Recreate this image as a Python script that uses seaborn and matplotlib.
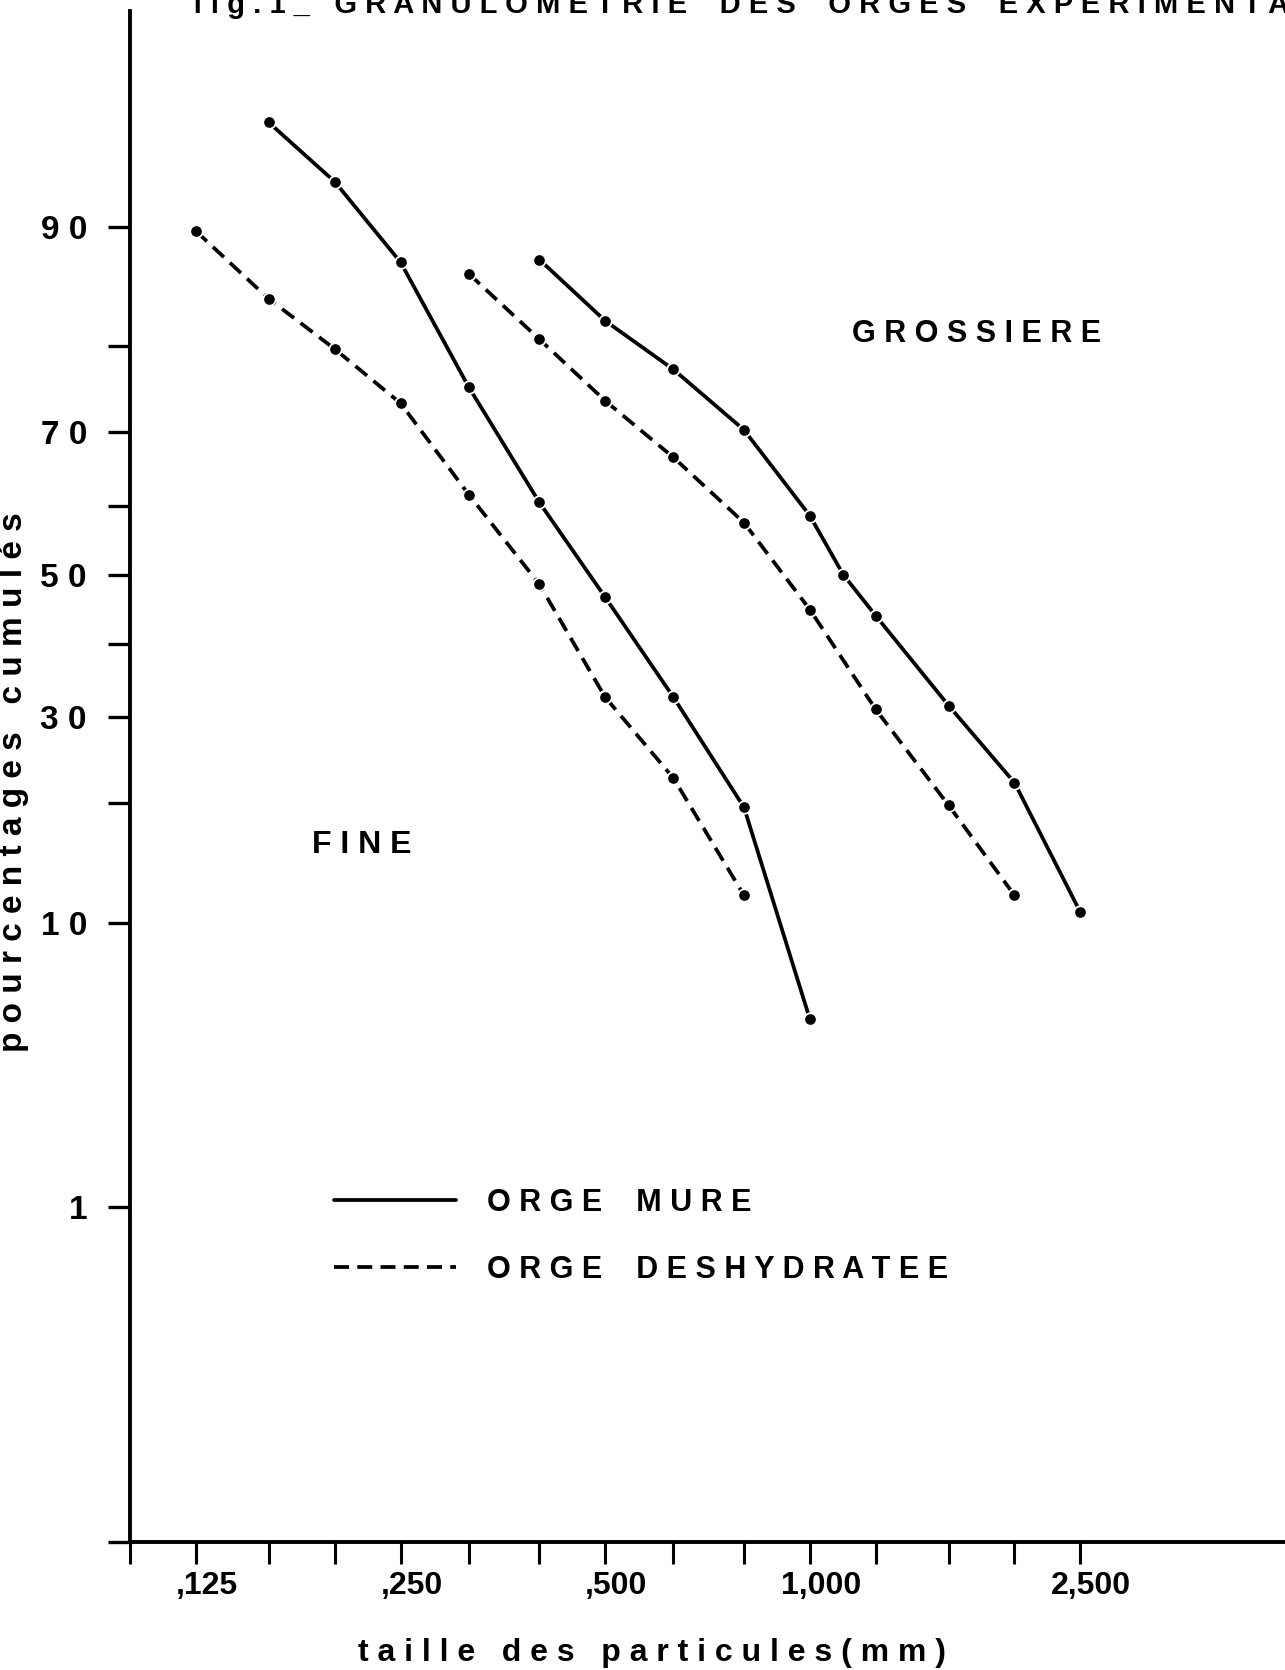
import math

import matplotlib
matplotlib.use("Agg")
import matplotlib.pyplot as plt
import matplotlib.transforms as mtransforms
from matplotlib.lines import Line2D
import numpy as np
import pandas as pd
import seaborn as sns

# --- donnees (taille en mm, pourcentages cumules) ---
tamis = [0.1, 0.125, 0.16, 0.2, 0.25, 0.315, 0.4, 0.5, 0.63, 0.8,
         1.0, 1.25, 1.6, 2.0, 2.5]
tamis_labels = ["", ",125", "", "", ",250", "", "", ",500", "", "",
                "1,000", "", "", "", "2,500"]

pct_ticks = [0.0185, 1, 10, 20, 30, 40, 50, 60, 70, 80, 90]
pct_labels = ["", "1", "1 0", "", "3 0", "", "5 0", "", "7 0", "", "9 0"]

mure_fine_x = [0.16, 0.2, 0.25, 0.315, 0.4, 0.5, 0.63, 0.8, 1.0]
mure_fine_y = [95.2, 92.6, 87.5, 75.5, 60.5, 46.7, 32.6, 19.6, 5.1]

desh_fine_x = [0.125, 0.16, 0.2, 0.25, 0.315, 0.4, 0.5, 0.63, 0.8]
desh_fine_y = [89.7, 84.5, 79.7, 73.6, 61.6, 48.6, 32.6, 22.7, 11.9]

desh_gros_x = [0.315, 0.4, 0.5, 0.63, 0.8, 1.0, 1.25, 1.6, 2.0]
desh_gros_y = [86.6, 80.7, 73.9, 66.7, 57.6, 44.9, 31.0, 19.8, 11.9]

mure_gros_x = [0.4, 0.5, 0.63, 0.8, 1.0, 1.12, 1.25, 1.6, 2.0, 2.5]
mure_gros_y = [87.7, 82.5, 77.5, 70.3, 58.6, 50.0, 44.0, 31.5, 22.2, 10.7]

rows = []
for orge, frac, xs, ys in [("MURE", "fine", mure_fine_x, mure_fine_y),
                           ("DESHYDRATEE", "fine", desh_fine_x, desh_fine_y),
                           ("DESHYDRATEE", "grossiere", desh_gros_x, desh_gros_y),
                           ("MURE", "grossiere", mure_gros_x, mure_gros_y)]:
    for x, y in zip(xs, ys):
        rows.append({"taille": x, "pct": y, "orge": orge, "serie": orge + frac})
df = pd.DataFrame(rows)

# --- echelle gausso-arithmetique (papier probabilite) ---
_erf = np.vectorize(math.erf)
_z = np.linspace(-6, 6, 6001)
_p = 0.5 * (1 + _erf(_z / math.sqrt(2)))


def probit(pct):
    return np.interp(np.asarray(pct, dtype=float) / 100.0, _p, _z)


def inv_probit(z):
    return 100.0 * 0.5 * (1 + _erf(np.asarray(z, dtype=float) / math.sqrt(2)))


sns.set_style("white")
plt.rcParams["font.family"] = ["Liberation Sans", "DejaVu Sans"]
plt.rcParams["font.weight"] = "bold"
plt.rcParams["text.color"] = "black"
plt.rcParams["axes.labelcolor"] = "black"
plt.rcParams["xtick.color"] = "black"
plt.rcParams["ytick.color"] = "black"

DASH = (4, 2.2)

fig = plt.figure(figsize=(12.85, 16.70), dpi=100)
ax = fig.add_axes([130 / 1285, 128 / 1670, 1 - 130 / 1285, (1542 - 11) / 1670])

sns.lineplot(data=df, x="taille", y="pct", units="serie", style="orge",
             estimator=None, sort=False, color="black", linewidth=2.7,
             dashes={"MURE": "", "DESHYDRATEE": DASH},
             markers={"MURE": "o", "DESHYDRATEE": "o"},
             markersize=9, markeredgecolor="white", markeredgewidth=1.3,
             legend=False, ax=ax)

ax.set_xscale("log")
ax.set_yscale("function", functions=(probit, inv_probit))
ax.set_xlim(0.1, 5.0)
ax.set_ylim(0.0185, 98.1)

ax.set_xticks(tamis)
ax.set_xticklabels(tamis_labels)
ax.xaxis.set_minor_locator(matplotlib.ticker.NullLocator())
ax.set_yticks(pct_ticks)
ax.set_yticklabels(pct_labels)
ax.yaxis.set_minor_locator(matplotlib.ticker.NullLocator())

ax.tick_params(axis="x", bottom=True, direction="out", length=16, width=2.2,
               pad=5, labelsize=23, color="black", labelcolor="black")
ax.tick_params(axis="y", left=True, direction="out", length=16, width=2.4,
               pad=15, labelsize=24, color="black", labelcolor="black")
# les etiquettes de l'original sont un peu decalees a droite des traits
decal = mtransforms.ScaledTranslation(11 / 100, 0, fig.dpi_scale_trans)
for lab in ax.get_xticklabels():
    lab.set_fontweight("bold")
    lab.set_transform(lab.get_transform() + decal)
for lab in ax.get_yticklabels():
    lab.set_fontweight("bold")

sns.despine(ax=ax)
for side in ["left", "bottom"]:
    ax.spines[side].set_linewidth(2.8)
    ax.spines[side].set_color("black")

ax.set_xlabel("t a i l l e   d e s   p a r t i c u l e s ( m m )",
              fontsize=23, fontweight="bold")
ax.xaxis.set_label_coords(0.452, -0.063)
ax.set_ylabel("")
fig.text(14 / 1285, 1 - 782 / 1670, "p o u r c e n t a g e s   c u m u l é s",
         rotation=90, ha="center", va="center", fontsize=24, fontweight="bold")

ax.text(1.76, 81.2, "G R O S S I E R E", ha="center", va="center",
        fontsize=22, fontweight="bold")
ax.text(0.219, 16.0, "F I N E", ha="center", va="center",
        fontsize=23, fontweight="bold")

fig.text(193 / 1285, 1 - 13 / 1670,
         "f i g . 1 _   G R A N U L O M E T R I E    D E S    O R G E S    "
         "E X P E R I M E N T A L E S",
         ha="left", va="baseline", fontsize=21, fontweight="bold")

handles = [Line2D([], [], color="black", lw=2.7),
           Line2D([], [], color="black", lw=2.7, dashes=DASH)]
ax.legend(handles, ["O R G E    M U R E", "O R G E    D E S H Y D R A T E E"],
          loc="upper left", bbox_to_anchor=(334 / 1285, 1 - 1188 / 1670),
          bbox_transform=fig.transFigure, frameon=False,
          handlelength=4.0, handletextpad=1.0, labelspacing=1.2,
          borderpad=0, borderaxespad=0, prop={"weight": "bold", "size": 22})

fig.savefig("out.png", dpi=100)
